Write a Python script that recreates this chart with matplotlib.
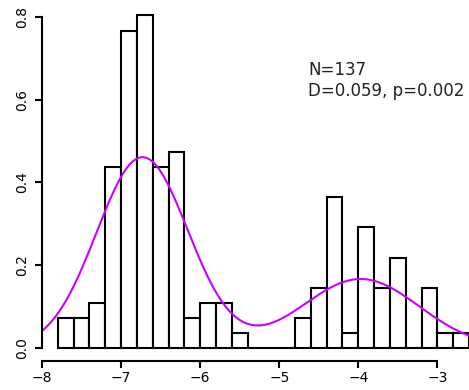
import numpy as np
import matplotlib
matplotlib.use("Agg")
import matplotlib.pyplot as plt

# histogram counts, bins of width 0.2 from -7.8 to -2.6
bin_edges = np.round(np.arange(-7.8, -2.59, 0.2), 1)
counts = [2, 2, 3, 12, 21, 22, 12, 13, 2, 3, 3, 1, 0,
          0, 0, 2, 4, 10, 1, 8, 4, 6, 0, 4, 1, 1]
n_total = 137

# two-component normal mixture fitted to the data
mix_weights = [0.67, 0.31]
mix_means = [-6.73, -3.97]
mix_sds = [0.58, 0.74]

annot = "N=137\nD=0.059, p=0.002"

W, H = 469, 390
fig = plt.figure(figsize=(W / 100, H / 100), dpi=100)
ax = fig.add_axes([42 / W, (H - 361) / H, 427 / W, 361 / H])

width = np.diff(bin_edges)
density = np.array(counts) / (n_total * width)
ax.bar(bin_edges[:-1], density, width=width, align="edge",
       facecolor="white", edgecolor="black", linewidth=1.5)

xs = np.linspace(-8, -2.6, 400)
ys = np.zeros_like(xs)
for w, m, s in zip(mix_weights, mix_means, mix_sds):
    ys += w * np.exp(-0.5 * ((xs - m) / s) ** 2) / (s * np.sqrt(2 * np.pi))
ax.plot(xs, ys, color="#cc00ff", linewidth=1.5)

ax.set_xlim(-8, -2.6)
ax.set_ylim(-0.0306, 0.840)

for side in ["top", "right"]:
    ax.spines[side].set_visible(False)
ax.spines["left"].set_bounds(0, 0.8)
ax.spines["bottom"].set_bounds(-8, -3)
ax.spines["left"].set_linewidth(1.5)
ax.spines["bottom"].set_linewidth(1.5)

ax.set_xticks([-8, -7, -6, -5, -4, -3])
ax.set_xticklabels(["\u22128", "\u22127", "\u22126", "\u22125", "\u22124", "\u22123"])
ax.set_yticks([0, 0.2, 0.4, 0.6, 0.8])
ax.set_yticklabels(["0.0", "0.2", "0.4", "0.6", "0.8"], rotation=90, va="center")
ax.tick_params(axis="both", length=5, width=1.5, labelsize=10, pad=2)
ax.tick_params(axis="y", pad=4)

ax.text(-4.63, 0.60, annot, fontsize=12, va="bottom", ha="left",
        linespacing=1.2, color="#222222")

fig.savefig("out.png", dpi=100)
